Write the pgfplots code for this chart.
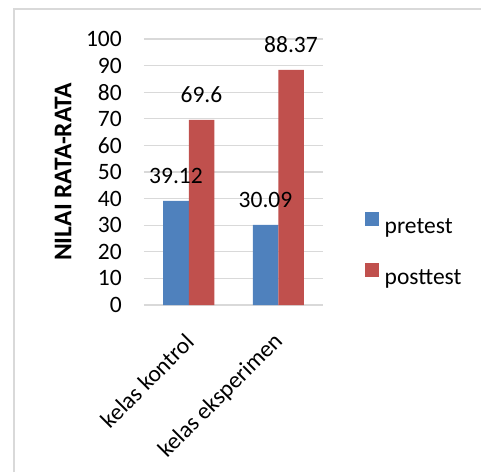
\documentclass[border=0pt]{standalone}
\usepackage{pgfplots}
\pgfplotsset{compat=1.18}
\usepackage{fontspec}
\setmainfont{Carlito}
\definecolor{cblue}{HTML}{4F81BD}
\definecolor{cred}{HTML}{C0504D}
\definecolor{cgrid}{HTML}{D9D9D9}
\begin{document}
\begin{tikzpicture}[x=1pt,y=1pt]
\path[use as bounding box] (-144,-167) rectangle (337,305);
\draw[cgrid, line width=2pt] (-130,-167) -- (-130,295.5) -- (337,295.5);
\begin{axis}[
  at={(0,0)}, anchor=south west,
  scale only axis, width=179pt, height=266pt,
  ybar=0pt, bar width=25.5pt,
  xmin=-0.5, xmax=1.5, ymin=0, ymax=100,
  xtick={0,1}, xticklabels={kelas kontrol, kelas eksperimen},
  ytick={0,10,...,100},
  major tick length=0pt,
  axis x line*=bottom, axis y line*=left,
  y axis line style={draw=none},
  x axis line style={cgrid, line width=1.3pt, -},
  ymajorgrids, grid style={cgrid, line width=1.3pt},
  font=\fontsize{23.5}{28}\selectfont,
  tick label style={font=\fontsize{23.5}{28}\selectfont},
  /pgf/number format/assume math mode=true,
  yticklabel style={anchor=east, inner sep=0pt, xshift=-22pt},
  xticklabel style={xshift=1pt, yshift=-33pt, rotate=45, anchor=east, inner sep=0pt},
  ylabel={\fontsize{25.5}{30}\selectfont\textbf{NILAI RATA-RATA}},
  every axis y label/.style={at={([xshift=-81pt]axis description cs:0,0.5)}, rotate=90, anchor=center},
  nodes near coords, point meta=explicit symbolic,
  nodes near coords style={anchor=center, yshift=25pt, text=black, font=\fontsize{23.5}{28}\selectfont},
  legend style={draw=none, fill=none, at={(axis description cs:1.2346,0.3496)}, anchor=north west, inner sep=0pt, row sep=24.5pt, column sep=6pt, nodes={inner sep=0pt, text height=17pt, text depth=5pt}},
  legend cell align=left,
  legend image code/.code={\fill[#1] (0pt,2pt) rectangle (13.5pt,15.5pt);},
]
\addplot[fill=cblue, draw=none] coordinates {(0,39.12) [39.12] (1,30.09) [30.09]};
\addplot[fill=cred, draw=none] coordinates {(0,69.6) [69.6] (1,88.37) [88.37]};
\legend{pretest, posttest}
\end{axis}
\end{tikzpicture}
\end{document}
